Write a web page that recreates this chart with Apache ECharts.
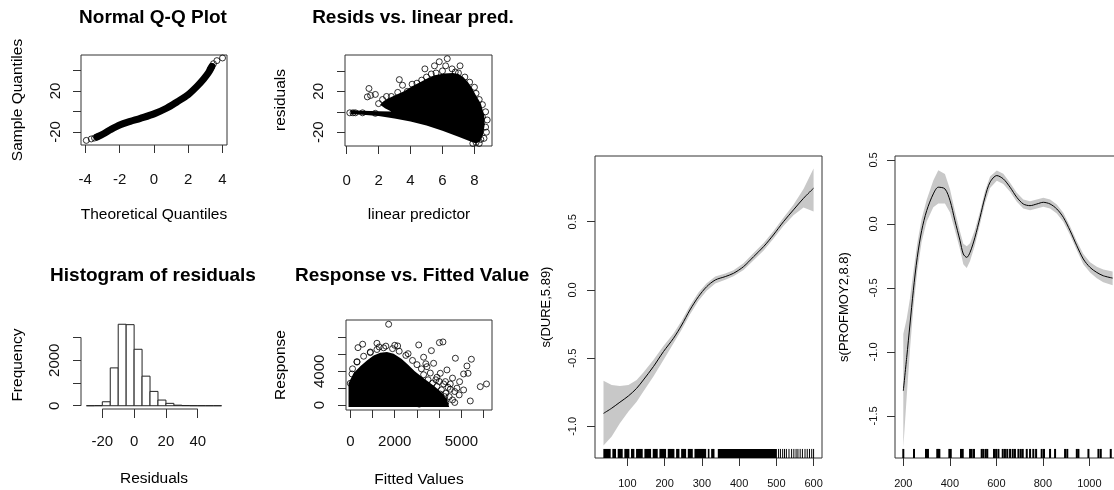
<!DOCTYPE html>
<html><head><meta charset="utf-8">
<script src="https://cdn.jsdelivr.net/npm/echarts@6/dist/echarts.min.js"></script>
<style>html,body{margin:0;padding:0;background:#fff}#c{width:1114px;height:490px}</style>
</head><body><div id="c"></div>
<script>
const FONT = '"Liberation Sans", Arial, Helvetica, sans-serif';

// ---------- Panel 1: Normal Q-Q plot ----------
const qqTheo   = [-3.32,-2.93,-2.54,-1.96,-1.38,-0.79,0.04,0.76,1.34,1.99,2.51,2.9,3.19,3.38];
const qqSample = [-25,-21.8,-17.9,-13,-9.8,-6.8,-2.2,3.3,9.2,16.3,24.4,31.6,38,43.9];
const qqTailTheo   = [-3.94,-3.65,-3.46,-3.32,3.28,3.38,3.47,3.67,4.0];
const qqTailSample = [-28.3,-26.9,-26,-25,41.4,43.9,46.5,49.5,52.1];
const qqXTicks = [-4,-2,0,2,4];
const qqYTicks = [-20,0,20,40];
const qqYLabels = [-20,20];

// ---------- Panel 2: Resids vs linear predictor ----------
const rsBlob = [[0.25,1.6],[1,1.1],[2,0.6],[2.8,0.2],[2.4,3.5],[2.1,7],[2.3,10],[2.6,13],[3,16],[3.6,20],[4.1,25],[4.6,29],[5.1,33],[5.6,36],[6.1,37.5],[6.65,38],[7,37],[7.3,34],[7.6,29],[7.8,24.5],[8.1,16],[8.4,8],[8.6,-3],[8.65,-12],[8.55,-22],[8.35,-29],[8.1,-31],[7.6,-28],[7,-24.5],[6,-18.5],[5,-13.5],[4,-9.5],[3,-6.5],[2,-4.2],[1,-2.8],[0.25,-2.2]];
const rsOutliers = [[0.2,-1],[0.4,-1],[0.55,-1],[1.4,22.8],[1.3,14.6],[1.5,16],[1.8,17],[2.25,12],[2.5,15],[3.3,31.5],[3.5,26],[4.1,27],[3.8,20],[4.9,42],[5.0,34],[5.5,45],[5.8,49],[6.3,52],[6.2,45],[6.6,42],[7.1,45],[7.0,38],[8.1,18],[8.5,-5],[8.7,-15],[8.4,-27],[8.1,-30],[2.0,8],[2.8,15],[3.2,19],[4.4,28],[4.7,31],[5.3,37],[5.6,38],[6.0,40],[6.8,39],[7.4,34],[7.7,29],[8.0,24],[8.3,12],[8.5,7],[8.7,0],[8.8,-8],[8.75,-20],[8.6,-26],[8.3,-31],[7.9,-31],[1.0,-1],[1.8,-1.5]];
const rsXTicks = [0,2,4,6,8];
const rsYTicks = [-20,0,20,40];
const rsYLabels = [-20,20];

// ---------- Panel 3: Histogram of residuals ----------
const hsEdges  = [-30,-25,-20,-15,-10,-5,0,5,10,15,20,25,30,35,40,45,50,55];
const hsCounts = [0,5,175,1663,3580,3562,2481,1300,630,250,105,25,8,3,1,0,1];
const hsXTicks = [-20,0,20,40];
const hsYTicks = [0,1000,2000,3000];
const hsYLabels = [0,2000];

// ---------- Panel 4: Response vs fitted ----------
const rfBlob = [[-80,-250],[-80,2600],[150,3800],[450,4600],[750,5300],[1050,5900],[1350,6200],[1650,6300],[1950,6100],[2300,5500],[2600,4800],[2900,4000],[3200,3400],[3500,2800],[3800,2200],[4100,1500],[4350,700],[4450,-250]];
const rfOutliers = [[1725,9600],[555,7230],[1200,7340],[2130,7020],[3080,7140],[4010,7420],[4170,7500],[345,6820],[900,6230],[3650,6460],[3300,5680],[4730,5560],[5450,5440],[5250,4640],[5100,3690],[5300,3770],[4920,2770],[5100,1790],[5850,2180],[6130,2500],[5400,480],[3750,4960],[3450,4560],[4350,4170],[4050,3770],[4280,2780],[4500,1870],[4250,990],[4130,200],[3450,200],[0,2580],[75,3690],[300,5150],[3300,3600],[3500,3000],[3700,2600],[3900,2200],[4100,1800],[4300,1400],[4450,1000],[4600,600],[4300,300],[3800,200],[4000,2800],[3600,3800],[3900,3300],[4200,2500],[4400,2100],[4700,1600],[4500,2500],[3200,4300],[3000,4800],[2800,5300],[2500,5900],[2200,6400],[1900,6700],[1500,6800],[1200,6600],[900,6300],[600,5800],[300,5100],[100,4300],[2000,7100],[2600,6100],[1600,7000],[1300,6900],[3400,4900],[3850,3000],[4600,3200],[4800,2000],[4900,1200],[4700,300],[3100,100],[3650,1000],[4050,1300],[3550,1800]];
const rfXTicks = [0,1000,2000,3000,4000,5000,6000];
const rfXLabels = [0,2000,5000];
const rfYTicks = [0,2000,4000,6000,8000];
const rfYLabels = [0,4000];

// ---------- Panel 5: s(DURE,5.89) ----------
const duX     = [36,58,80,103,125,143,170,197,224,246,268,291,313,336,363,385,412,439,466,492,519,546,573,600];
const duFit   = [-0.905,-0.867,-0.823,-0.777,-0.721,-0.66,-0.562,-0.452,-0.354,-0.257,-0.147,-0.049,0.024,0.073,0.098,0.122,0.171,0.244,0.318,0.403,0.5,0.587,0.672,0.746];
const duUpper = [-0.665,-0.697,-0.704,-0.697,-0.66,-0.606,-0.513,-0.41,-0.32,-0.225,-0.115,-0.018,0.05,0.098,0.12,0.145,0.195,0.27,0.345,0.43,0.53,0.625,0.74,0.89];
const duLower = [-1.14,-1.075,-0.977,-0.892,-0.819,-0.745,-0.635,-0.513,-0.39,-0.29,-0.18,-0.08,-0.005,0.048,0.075,0.1,0.147,0.218,0.29,0.375,0.468,0.548,0.605,0.575];
const duRugSeg = [[35.6,55.3],[59.8,69.6],[74.1,87.6],[92,105.5],[109.9,118.9],[123.4,141.3],[145.8,163.7],[168.2,181.6],[186.1,204],[208.5,226.4],[230.9,239.9],[244.4,257.8],[262.3,275.7],[280.2,311.6],[316.1,320.5],[325,334],[342.9,501.5]];
const duRugLines = [506,511,517,522,527,534,541,547,553,558,564,570,577,583,589,595,600];
const duXTicks = [100,200,300,400,500,600];
const duYTicks = [-1,-0.5,0,0.5];

// ---------- Panel 6: s(PROFMOY2,8.8) ----------
const pfX     = [200,214.6,228.8,243,260,279,300.6,329,350.5,379,401,422,444,458,472.7,487,508,530,551,573,602,630,659,688,716,745,774,802,831,860,888,917,946,974,1003,1032,1060,1100];
const pfFit   = [-1.304,-1.044,-0.782,-0.522,-0.261,-0.052,0.104,0.235,0.287,0.274,0.182,0.026,-0.131,-0.235,-0.261,-0.222,-0.105,0.052,0.208,0.326,0.378,0.352,0.287,0.208,0.156,0.143,0.156,0.169,0.156,0.117,0.052,-0.052,-0.17,-0.274,-0.34,-0.379,-0.405,-0.423];
const pfUpper = [-0.86,-0.74,-0.58,-0.38,-0.15,0.04,0.19,0.34,0.42,0.39,0.27,0.10,-0.06,-0.155,-0.175,-0.15,-0.045,0.10,0.255,0.37,0.418,0.392,0.322,0.243,0.191,0.178,0.191,0.204,0.191,0.152,0.087,-0.017,-0.135,-0.234,-0.30,-0.334,-0.355,-0.372];
const pfLower = [-1.75,-1.35,-0.98,-0.66,-0.37,-0.14,0.02,0.13,0.16,0.16,0.09,-0.05,-0.2,-0.315,-0.345,-0.29,-0.165,0.0,0.16,0.28,0.338,0.312,0.252,0.173,0.121,0.108,0.121,0.134,0.121,0.082,0.017,-0.087,-0.205,-0.314,-0.38,-0.424,-0.455,-0.48];
const pfRug = [200,246,297.6,306,346,350,355,398,404,448,455.5,487,494,504,537,544,554,561,590,599,609,627.5,637,647,659,670.5,680,695,705,713.5,730.8,745,759,771,795,805,831,852.5,895.5,905,946,953,996,1039,1049,1092];
const pfXTicks = [200,400,600,800,1000];
const pfYTicks = [-1.5,-1,-0.5,0,0.5];

// ---------- layout ----------
const grids = [
  {left:81,  top:55,  width:146, height:90},
  {left:345, top:55,  width:147, height:91},
  {left:81,  top:321, width:146, height:88},
  {left:346, top:320, width:146, height:90},
  {left:595, top:156, width:227, height:302},
  {left:895, top:156, width:226, height:302}
].map((g,i)=>Object.assign(g,{show:i!==2, borderColor:'#333', borderWidth:1, backgroundColor:'transparent', containLabel:false, outerBoundsMode:'none'}));

const ranges = [
  {x:[-4.25,4.26],  y:[-32.8,55.0]},
  {x:[-0.1,9.1],    y:[-33.5,55.6]},
  {x:[-33.4,58.4],  y:[-143,3723]},
  {x:[-194,6378],   y:[-595,10107]},
  {x:[13.2,622.6],  y:[-1.232,0.982]},
  {x:[164.3,1136],  y:[-1.829,0.531]}
];

const intFmt = v => String(v);
const decFmt = v => v.toFixed(1);

function xAx(gi, ticks, labels, margin, fs, fmt){
  return {type:'value', gridIndex:gi, min:ranges[gi].x[0], max:ranges[gi].x[1], position:'bottom',
    axisLine:{show:false, onZero:false}, splitLine:{show:false},
    axisTick:{show:true, inside:false, length:8, customValues:ticks, lineStyle:{color:'#333', width:1}},
    axisLabel:{show:true, customValues:labels, margin:margin, fontSize:fs, fontFamily:FONT, color:'#111', formatter:fmt, hideOverlap:false}};
}
function yAx(gi, ticks, labels, margin, fs, fmt){
  return {type:'value', gridIndex:gi, min:ranges[gi].y[0], max:ranges[gi].y[1], position:'left',
    axisLine:{show:false, onZero:false}, splitLine:{show:false},
    axisTick:{show:true, inside:false, length:8, customValues:ticks, lineStyle:{color:'#333', width:1}},
    axisLabel:{show:true, customValues:labels, margin:margin, rotate:90, fontSize:fs, fontFamily:FONT, color:'#111', formatter:fmt, hideOverlap:false}};
}

const xAxes = [
  xAx(0, qqXTicks, qqXTicks, 27, 15, intFmt),
  xAx(1, rsXTicks, rsXTicks, 27, 15, intFmt),
  xAx(2, hsXTicks, hsXTicks, 25, 15, intFmt),
  xAx(3, rfXTicks, rfXLabels, 24, 15, intFmt),
  xAx(4, duXTicks, duXTicks, 20, 11, intFmt),
  xAx(5, pfXTicks, pfXTicks, 20, 11, intFmt)
];
xAxes[2].axisTick.length = 9;
const yAxes = [
  yAx(0, qqYTicks, qqYLabels, 18, 15, intFmt),
  yAx(1, rsYTicks, rsYLabels, 19, 15, intFmt),
  yAx(2, hsYTicks, hsYLabels, 19, 15, intFmt),
  yAx(3, rfYTicks, rfYLabels, 19, 15, intFmt),
  yAx(4, duYTicks, duYTicks, 17, 11, decFmt),
  yAx(5, pfYTicks, pfYTicks, 16, 11, decFmt)
];

const hollow = {color:'rgba(0,0,0,0)', borderColor:'#000', borderWidth:1};

function polySeries(gi, pts, fill){
  return {type:'custom', xAxisIndex:gi, yAxisIndex:gi, silent:true, data:pts,
    renderItem:(params, api)=>{
      if (params.dataIndex !== 0) return null;
      return {type:'polygon', shape:{points:pts.map(p=>api.coord(p))}, style:{fill:fill}};
    }};
}
function bandSeries(gi, xs, up, lo){
  const pts = xs.map((x,i)=>[x,up[i]]).concat(xs.map((x,i)=>[x,lo[i]]).reverse());
  return polySeries(gi, pts, '#c8c8c8');
}
function rugLineSeries(gi, vals, lw){
  const y0 = ranges[gi].y[0], y1 = y0 + 0.03*(ranges[gi].y[1]-ranges[gi].y[0]);
  return {type:'custom', xAxisIndex:gi, yAxisIndex:gi, silent:true, data:vals.map(v=>[v,y0]),
    renderItem:(params, api)=>{
      const a = api.coord([api.value(0), y0]), b = api.coord([api.value(0), y1]);
      return {type:'line', shape:{x1:a[0],y1:a[1],x2:b[0],y2:b[1]}, style:{stroke:'#000', lineWidth:lw}};
    }};
}
function rugSegSeries(gi, segs){
  const y0 = ranges[gi].y[0], y1 = y0 + 0.03*(ranges[gi].y[1]-ranges[gi].y[0]);
  return {type:'custom', xAxisIndex:gi, yAxisIndex:gi, silent:true, data:segs,
    renderItem:(params, api)=>{
      const a = api.coord([api.value(0), y1]), b = api.coord([api.value(1), y0]);
      return {type:'rect', shape:{x:a[0], y:a[1], width:Math.max(b[0]-a[0],1), height:b[1]-a[1]}, style:{fill:'#000'}};
    }};
}

const series = [
  // panel 1
  {type:'line', xAxisIndex:0, yAxisIndex:0, data:qqTheo.map((x,i)=>[x,qqSample[i]]), smooth:0.3, symbol:'none', silent:true,
   lineStyle:{color:'#000', width:7, cap:'round'}},
  {type:'scatter', xAxisIndex:0, yAxisIndex:0, data:qqTailTheo.map((x,i)=>[x,qqTailSample[i]]), symbolSize:6, silent:true, itemStyle:hollow},
  // panel 2
  polySeries(1, rsBlob, '#000'),
  {type:'scatter', xAxisIndex:1, yAxisIndex:1, data:rsOutliers, symbolSize:6, silent:true, itemStyle:hollow},
  // panel 3
  {type:'custom', xAxisIndex:2, yAxisIndex:2, silent:true, data:hsCounts.map((c,i)=>[hsEdges[i], hsEdges[i+1], c]),
   renderItem:(params, api)=>{
     const a = api.coord([api.value(0), api.value(2)]), b = api.coord([api.value(1), 0]);
     return {type:'rect', shape:{x:a[0], y:a[1], width:b[0]-a[0], height:b[1]-a[1]}, style:{fill:'#fff', stroke:'#222', lineWidth:1}};
   }},
  {type:'line', xAxisIndex:2, yAxisIndex:2, data:[[hsXTicks[0], ranges[2].y[0]],[hsXTicks[hsXTicks.length-1], ranges[2].y[0]]], symbol:'none', clip:false, silent:true, lineStyle:{color:'#333', width:1}},
  {type:'line', xAxisIndex:2, yAxisIndex:2, data:[[ranges[2].x[0], hsYTicks[0]],[ranges[2].x[0], hsYTicks[hsYTicks.length-1]]], symbol:'none', clip:false, silent:true, lineStyle:{color:'#333', width:1}},
  // panel 4
  polySeries(3, rfBlob, '#000'),
  {type:'scatter', xAxisIndex:3, yAxisIndex:3, data:rfOutliers, symbolSize:6, silent:true, itemStyle:hollow},
  // panel 5
  bandSeries(4, duX, duUpper, duLower),
  {type:'line', xAxisIndex:4, yAxisIndex:4, data:duX.map((x,i)=>[x,duFit[i]]), smooth:0.3, symbol:'none', silent:true, lineStyle:{color:'#000', width:1}},
  rugSegSeries(4, duRugSeg),
  rugLineSeries(4, duRugLines, 1),
  // panel 6
  bandSeries(5, pfX, pfUpper, pfLower),
  {type:'line', xAxisIndex:5, yAxisIndex:5, data:pfX.map((x,i)=>[x,pfFit[i]]), smooth:0.3, symbol:'none', silent:true, lineStyle:{color:'#000', width:1}},
  rugLineSeries(5, pfRug, 2)
];

function txt(t, x, y, size, bold, rot, align){
  return {type:'text', x:x, y:y, rotation:rot||0, silent:true,
    style:{text:t, x:0, y:0, font:(bold?'bold ':'')+size+'px '+FONT, fill:'#000',
      textAlign:align||'center', textVerticalAlign:'middle', align:align||'center', verticalAlign:'middle'}};
}
const R = Math.PI/2;
const graphics = [
  txt('Normal Q-Q Plot', 153, 18, 19, true),
  txt('Resids vs. linear pred.', 413, 18, 19, true),
  txt('Histogram of residuals', 153, 276, 19, true),
  txt('Response vs. Fitted Value', 295, 276, 19, true, 0, 'left'),
  txt('Theoretical Quantiles', 154, 215, 15.5, false),
  txt('Sample Quantiles', 18, 100, 15.5, false, R),
  txt('linear predictor', 419, 215, 15.5, false),
  txt('residuals', 281, 100, 15.5, false, R),
  txt('Residuals', 154, 479, 15.5, false),
  txt('Frequency', 18, 365, 15.5, false, R),
  txt('Fitted Values', 419, 480, 15.5, false),
  txt('Response', 281, 365, 15.5, false, R),
  txt('s(DURE,5.89)', 546, 307, 13, false, R),
  txt('s(PROFMOY2,8.8)', 844, 307, 13, false, R)
];

const chart = echarts.init(document.getElementById('c'), null, {renderer:'canvas', width:1114, height:490});
chart.setOption({
  backgroundColor:'#fff',
  animation:false,
  grid:grids,
  xAxis:xAxes,
  yAxis:yAxes,
  series:series,
  graphic:graphics
});
</script></body></html>
